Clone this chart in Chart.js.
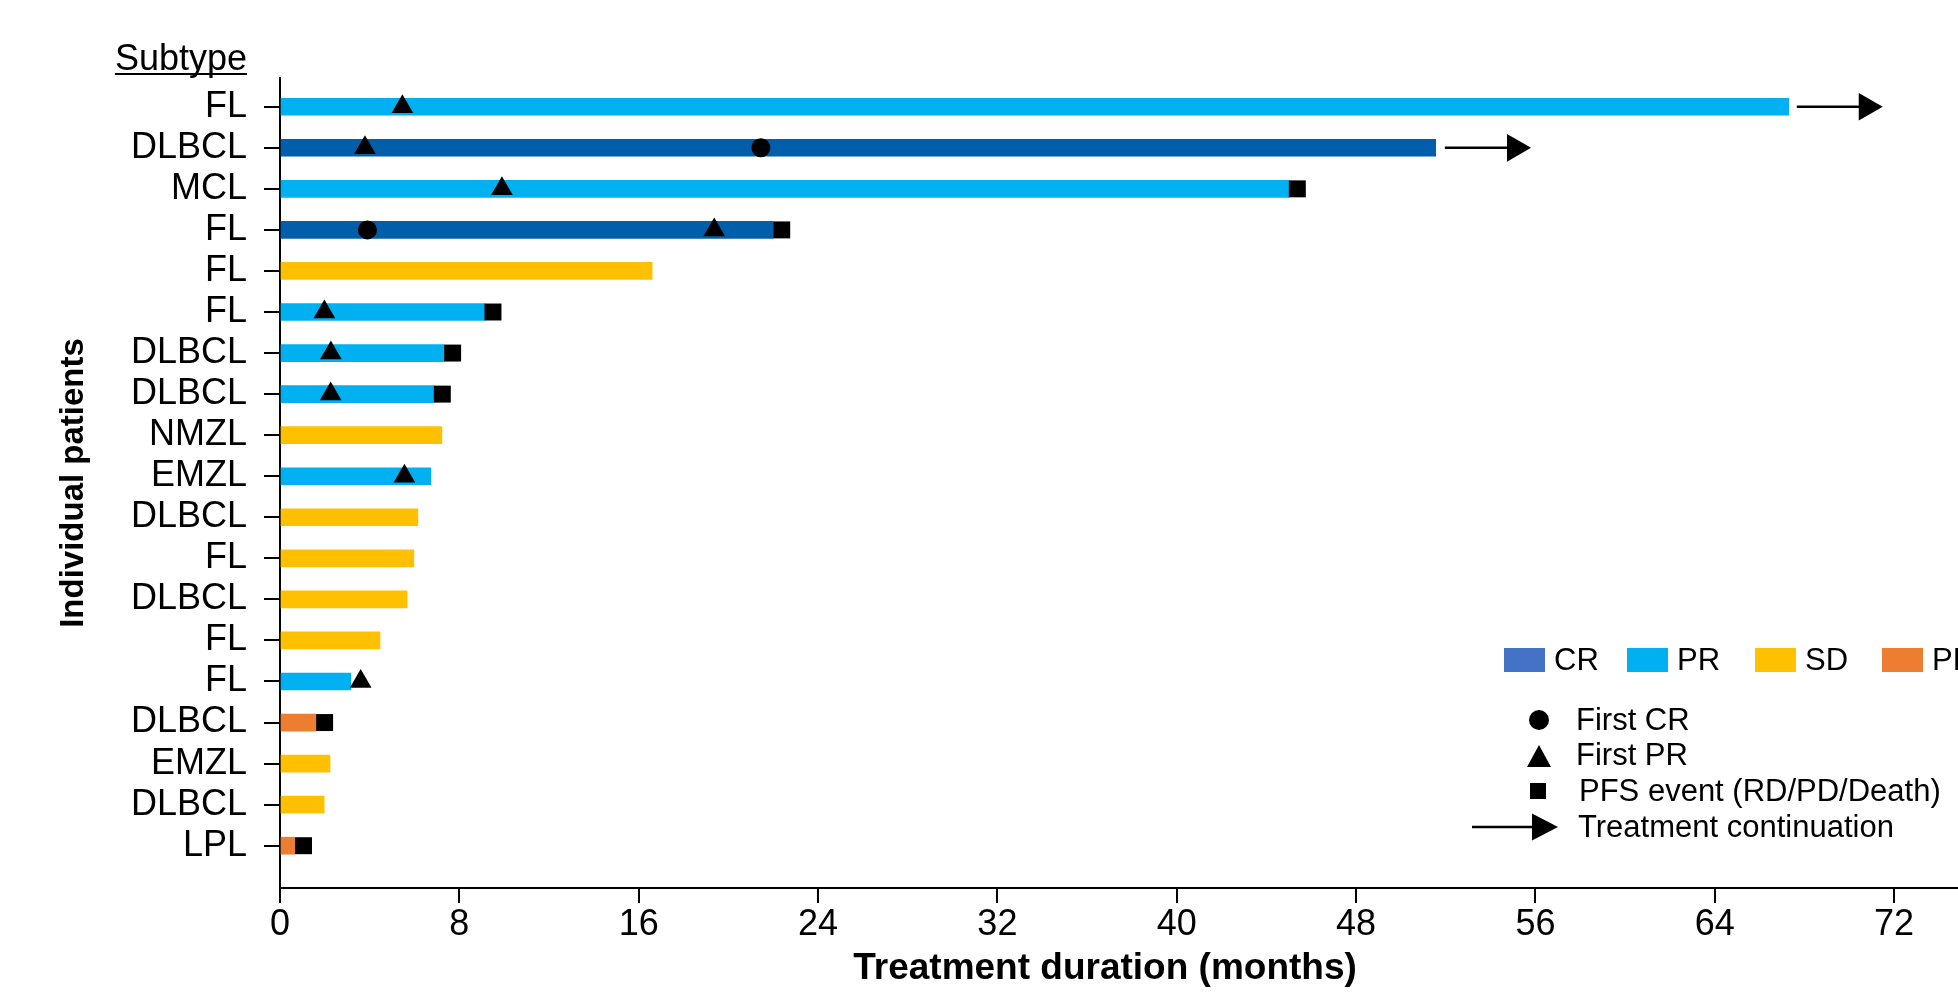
<!DOCTYPE html>
<html>
<head>
<meta charset="utf-8">
<script src="https://cdn.jsdelivr.net/npm/chart.js@4.4.0/dist/chart.umd.min.js"></script>
<style>
  html, body { margin: 0; padding: 0; background: #fff; overflow: hidden; }
  canvas { display: block; }
</style>
</head>
<body>
<canvas id="swimmerChart" width="1958" height="993"></canvas>
<script>
// one row per patient, top to bottom
const subtypes = ['FL', 'DLBCL', 'MCL', 'FL', 'FL', 'FL', 'DLBCL', 'DLBCL', 'NMZL', 'EMZL',
                  'DLBCL', 'FL', 'DLBCL', 'FL', 'FL', 'DLBCL', 'EMZL', 'DLBCL', 'LPL'];
const bestResponse = ['PR', 'CR', 'PR', 'CR', 'SD', 'PR', 'PR', 'PR', 'SD', 'PR',
                      'SD', 'SD', 'SD', 'SD', 'PR', 'PD', 'SD', 'SD', 'PD'];
const durations = [67.3, 51.55, 45.0, 22.0, 16.6, 9.14, 7.32, 6.86, 7.22, 6.73,
                   6.15, 5.97, 5.67, 4.46, 3.16, 1.61, 2.23, 1.97, 0.67]; // months

// events (row index + month)
const firstCRRows = [1, 3];
const firstCRMonths = [21.45, 3.9];
const firstPRRows = [0, 1, 2, 3, 5, 6, 7, 9, 14];
const firstPRMonths = [5.46, 3.79, 9.9, 19.37, 1.98, 2.27, 2.26, 5.55, 3.6];
const pfsRows = [2, 3, 5, 6, 7, 15, 18];
const pfsMonths = [45.38, 22.38, 9.5, 7.7, 7.24, 1.99, 1.05];
const arrowRows = [0, 1];
const arrowStart = [67.66, 51.96];
const arrowHead = [70.78, 55.09];

const responseColors = { CR: '#005EAA', PR: '#00B0F0', SD: '#FFC000', PD: '#ED7D31' };
const legendLabels = ['CR', 'PR', 'SD', 'PD'];
const legendColors = ['#4472C4', '#00B0F0', '#FFC000', '#ED7D31'];

const FONT = "'Liberation Sans', Arial, sans-serif";

function toPoints(rows, months) {
    return rows.map((r, i) => ({ x: months[i], y: r }));
}

// arrow shape used in the legend
function drawArrow(ctx, x0, x1, y) {
    ctx.save();
    ctx.strokeStyle = '#000';
    ctx.lineWidth = 2.5;
    ctx.beginPath();
    ctx.moveTo(x0, y);
    ctx.lineTo(x1, y);
    ctx.stroke();
    ctx.fillStyle = '#000';
    ctx.beginPath();
    ctx.moveTo(x1 - 1, y - 13.5);
    ctx.lineTo(x1 + 25, y);
    ctx.lineTo(x1 - 1, y + 13.5);
    ctx.closePath();
    ctx.fill();
    ctx.restore();
}

const extrasPlugin = {
    id: 'extras',
    afterDraw(chart) {
        const ctx = chart.ctx;
        ctx.save();
        ctx.fillStyle = '#000';

        // "Subtype" header
        ctx.font = '36px ' + FONT;
        ctx.textAlign = 'right';
        ctx.textBaseline = 'alphabetic';
        ctx.fillText('Subtype', 247, 70);
        const w = ctx.measureText('Subtype').width;
        ctx.fillRect(247 - w, 73, w, 2);

        // x axis title (sits a bit left of the plot centre in the original)
        ctx.font = 'bold 37px ' + FONT;
        ctx.textAlign = 'center';
        ctx.textBaseline = 'middle';
        ctx.fillText('Treatment duration (months)', 1105, 969);

        // response legend
        ctx.font = '31px ' + FONT;
        ctx.textAlign = 'left';
        const swX = [1504, 1627, 1755, 1882];
        legendLabels.forEach((lab, i) => {
            ctx.fillStyle = legendColors[i];
            ctx.fillRect(swX[i], 648, 41, 24);
            ctx.fillStyle = '#000';
            ctx.fillText(lab, swX[i] + 50, 661);
        });

        // marker legend
        ctx.beginPath();
        ctx.arc(1539, 720, 10, 0, Math.PI * 2);
        ctx.fill();
        ctx.fillText('First CR', 1576, 721);

        ctx.beginPath();
        ctx.moveTo(1539, 745);
        ctx.lineTo(1551, 767);
        ctx.lineTo(1527, 767);
        ctx.closePath();
        ctx.fill();
        ctx.fillText('First PR', 1576, 756);

        ctx.fillRect(1530, 783, 16, 16);
        ctx.fillText('PFS event (RD/PD/Death)', 1579, 792);

        drawArrow(ctx, 1472, 1533, 827);
        ctx.fillText('Treatment continuation', 1578, 828);
        ctx.restore();
    }
};

function noPad(s) {
    s.paddingLeft = 0;
    s.paddingRight = 0;
    s.paddingTop = 0;
    s.paddingBottom = 0;
}

document.addEventListener('DOMContentLoaded', () => {
    const datasets = [{
        type: 'bar',
        data: durations.map((d, i) => ({ x: d, y: i })),
        backgroundColor: bestResponse.map(r => responseColors[r]),
        barThickness: 17,
        borderWidth: 0,
        order: 10
    }, {
        type: 'scatter',
        data: toPoints(firstCRRows, firstCRMonths),
        pointStyle: 'circle',
        pointRadius: 9.5,
        backgroundColor: '#000',
        borderWidth: 0,
        order: 1
    }, {
        type: 'scatter',
        data: toPoints(firstPRRows, firstPRMonths),
        pointStyle: 'triangle',
        pointRadius: 12.5,
        backgroundColor: '#000',
        borderWidth: 0,
        order: 1
    }, {
        type: 'scatter',
        data: toPoints(pfsRows, pfsMonths),
        pointStyle: 'rect',
        pointRadius: 12,
        backgroundColor: '#000',
        borderWidth: 0,
        order: 1
    }, {
        type: 'scatter',
        data: toPoints(arrowRows, arrowHead),
        pointStyle: 'triangle',
        rotation: 90,
        pointRadius: 16,
        backgroundColor: '#000',
        borderWidth: 0,
        order: 1
    }];
    // continuation lines
    arrowRows.forEach((r, i) => {
        datasets.push({
            type: 'scatter',
            data: [{ x: arrowStart[i], y: r }, { x: arrowHead[i], y: r }],
            showLine: true,
            pointRadius: 0,
            borderColor: '#000',
            borderWidth: 2.5,
            order: 2
        });
    });

    new Chart(document.getElementById('swimmerChart'), {
        type: 'bar',
        data: { datasets: datasets },
        options: {
            indexAxis: 'y',
            responsive: false,
            animation: false,
            events: [],
            layout: { autoPadding: false, padding: { top: 78, right: 0, bottom: 0, left: 0 } },
            plugins: { legend: { display: false }, tooltip: { enabled: false } },
            scales: {
                x: {
                    type: 'linear',
                    min: 0,
                    max: 74.85,
                    offset: false,
                    afterFit: s => { s.height = 105; noPad(s); },
                    border: { display: true, color: '#000', width: 2 },
                    grid: { offset: false, drawOnChartArea: false, drawTicks: true, tickLength: 15, color: '#000', lineWidth: 2 },
                    ticks: { stepSize: 8, includeBounds: false, color: '#000', padding: 0, font: { family: FONT, size: 36 } },
                    title: { display: false }
                },
                y: {
                    type: 'linear',
                    reverse: true,
                    min: -0.7,
                    max: 19.03,
                    offset: false,
                    afterFit: s => { s.width = 280; noPad(s); },
                    afterBuildTicks: s => { s.ticks = subtypes.map((_, i) => ({ value: i })); },
                    border: { display: true, color: '#000', width: 2 },
                    grid: { offset: false, drawOnChartArea: false, drawTicks: true, tickLength: 16, color: '#000', lineWidth: 2 },
                    ticks: {
                        autoSkip: false,
                        color: '#000',
                        padding: 17,
                        font: { family: FONT, size: 36 },
                        callback: v => subtypes[v]
                    },
                    title: {
                        display: true,
                        text: 'Individual patients',
                        color: '#000',
                        font: { family: FONT, size: 33, weight: 'bold' },
                        padding: { top: 54, bottom: 0 }
                    }
                }
            }
        },
        plugins: [extrasPlugin]
    });
});
</script>
</body>
</html>
